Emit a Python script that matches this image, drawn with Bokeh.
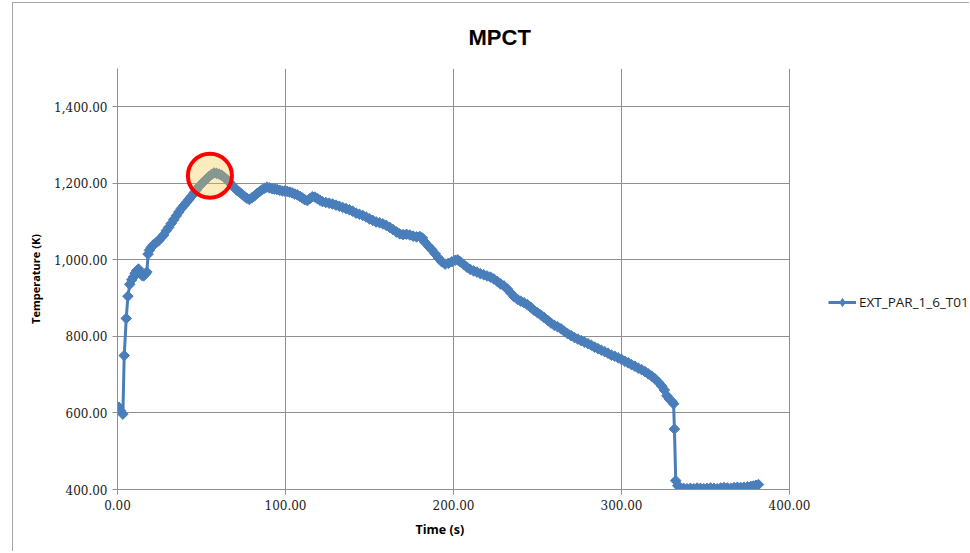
from bokeh.plotting import figure
from bokeh.models import (Range1d, FixedTicker, NumeralTickFormatter, Legend, LegendItem,
                          ColumnDataSource, Title)
from bokeh.embed import file_html
from bokeh.resources import INLINE
import numpy as np

# ---- data ----
time_s = [
    0.8, 2.0, 3.2, 4.0, 5.2, 6.2, 7.3, 8.5, 9.5, 10.5, 11.5, 12.5, 13.5, 14.5, 15.5, 16.5, 17.5, 18.2, 19.0, 20.0,
    21.5, 23.0, 24.5, 26.0, 27.5, 29.0, 30.5, 32.0, 33.5, 35.0, 36.5, 38.0, 39.5, 41.0, 42.5, 44.0, 45.5, 47.0, 48.5, 50.0,
    51.5, 53.0, 54.5, 56.0, 57.5, 59.0, 60.5, 62.0, 63.5, 65.0, 66.5, 68.0, 69.5, 71.0, 72.5, 74.0, 75.5, 77.0, 78.5, 80.0,
    81.5, 83.0, 84.5, 86.0, 87.5, 89.0, 90.5, 92.0, 93.5, 95.0, 96.5, 98.0, 99.5, 101.0, 102.5, 104.0, 105.5, 107.0, 108.5, 110.0,
    111.5, 113.0, 114.5, 116.0, 117.5, 119.0, 120.5, 122.0, 124, 126, 128, 130, 132, 134, 136, 138, 140, 142, 144, 146,
    148, 150, 152, 154, 156, 158, 160, 162, 164, 166, 168, 170, 172, 174, 176, 178, 180, 181.5, 183, 185,
    187, 189, 191, 193, 195, 197, 199, 201, 202.5, 204, 206, 208, 210, 212, 214, 216, 218, 220, 222, 224,
    226, 228, 230, 232, 234, 236, 238, 240, 242, 244, 246, 248, 250, 252, 254, 256, 258, 260, 262, 264,
    266, 268, 270, 272, 274, 276, 278, 280, 282, 284, 286, 288, 290, 292, 294, 296, 298, 300, 302, 304,
    306, 308, 310, 312, 314, 316, 318, 320, 322, 324, 325.5, 327, 328.5, 330, 331, 331.5, 332.3, 333.5, 335, 337,
    339, 341, 343, 345, 347, 349, 351, 353, 355, 357, 359, 361, 363, 365, 367, 369, 371, 373, 375, 377,
    378.5, 380, 381.5,
]
temperature_k = [
    615, 605, 597, 750, 847, 905, 936, 948, 955, 965, 972, 976, 965, 960, 958, 963, 968, 1015, 1025, 1032,
    1040, 1045, 1050, 1058, 1065, 1076, 1085, 1095, 1105, 1115, 1125, 1134, 1142, 1150, 1158, 1166, 1175, 1183, 1192, 1199,
    1205, 1212, 1218, 1223, 1227, 1226, 1224, 1221, 1216, 1210, 1203, 1196, 1189, 1182, 1177, 1172, 1166, 1161, 1158, 1162,
    1167, 1173, 1178, 1183, 1187, 1190, 1188, 1186, 1185, 1184, 1182, 1180, 1180, 1179, 1177, 1175, 1172, 1170, 1166, 1162,
    1157, 1155, 1160, 1165, 1164, 1160, 1156, 1152, 1150, 1148, 1146, 1143, 1140, 1137, 1134, 1131, 1127, 1122, 1119, 1116,
    1112, 1107, 1103, 1099, 1097, 1094, 1090, 1085, 1079, 1073, 1068, 1066, 1067, 1065, 1062, 1060, 1061, 1057, 1046, 1036,
    1027, 1016, 1005, 995, 989, 991, 995, 999, 1000, 995, 988, 981, 975, 971, 968, 964, 961, 958, 955, 950,
    944, 937, 932, 924, 914, 904, 897, 892, 888, 883, 876, 868, 862, 856, 849, 842, 835, 829, 825, 820,
    813, 807, 802, 797, 793, 789, 785, 781, 777, 772, 768, 764, 760, 756, 751, 748, 744, 740, 735, 731,
    726, 722, 717, 713, 708, 702, 696, 689, 680, 670, 660, 645, 636, 630, 624, 558, 423, 410, 405, 403,
    402, 403, 402, 404, 403, 402, 403, 404, 403, 402, 404, 405, 404, 403, 405, 406, 405, 406, 407, 408,
    409, 411, 413,
]
series_name = "EXT_PAR_1_6_T01"
x_ticks = [0, 100, 200, 300, 400]
y_ticks = [400, 600, 800, 1000, 1200, 1400]
x_axis_min, x_axis_max = 0, 400
y_axis_min, y_axis_max = 400, 1500
highlight_t = [55]
highlight_k = [1220]

BLUE = "#4A7EBB"
GRID = "#8f8f8f"

# layout (pixels)
W, H = 957, 549
LEFT, TOP, BOTTOM = 104, 64, 63
PLOT_W = 672                       # width of the 0..400 plot area
frame_w = W - LEFT                 # frame runs to the right edge, legend sits in it
x_view_max = x_axis_max * frame_w / PLOT_W

src = ColumnDataSource(data=dict(t=time_s, k=temperature_k))

p = figure(
    width=W, height=H,
    x_range=Range1d(x_axis_min, x_view_max), y_range=Range1d(y_axis_min, y_axis_max),
    output_backend="svg", toolbar_location=None,
    min_border_left=LEFT, min_border_right=0, min_border_top=TOP, min_border_bottom=BOTTOM,
    styles={"margin-left": "12px", "margin-top": "2px",
            "border-left": "1px solid #a6a6a6", "border-top": "1px solid #a6a6a6",
            "border-right": "none", "border-bottom": "none"},
)
p.outline_line_color = None
p.background_fill_color = "white"
p.border_fill_color = "white"

p.title.text = "MPCT"
p.title.align = "left"
p.title.offset = 351
p.title.standoff = 38
p.title.text_font = "Liberation Sans"
p.title.text_font_style = "bold"
p.title.text_font_size = "22px"
p.title.text_color = "#000000"

for ax, ticks in ((p.xaxis[0], x_ticks), (p.yaxis[0], y_ticks)):
    ax.ticker = FixedTicker(ticks=ticks)
    ax.formatter = NumeralTickFormatter(format="0,0.00")
    ax.major_label_text_font = "DejaVu Serif"
    ax.major_label_text_font_size = "12px"
    ax.major_label_text_color = "#1a1a1a"
    ax.axis_line_color = GRID
    ax.major_tick_line_color = GRID
    ax.major_tick_out = 5
    ax.major_tick_in = 0
    ax.minor_tick_line_color = None
    ax.axis_label_text_font = "Open Sans"
    ax.axis_label_text_font_style = "bold"
    ax.axis_label_text_font_size = "11px"
    ax.axis_label_text_color = "#000000"

p.xaxis.bounds = (x_axis_min, x_axis_max)
p.yaxis.axis_label = "Temperature (K)"
p.yaxis.axis_label_standoff = 8

xtitle = Title(text="Time (s)", align="left", offset=298, standoff=16, vertical_align="top",
               text_font="Open Sans", text_font_style="bold", text_font_size="12.5px",
               text_color="#000000")
p.add_layout(xtitle, "below")

p.xgrid.ticker = FixedTicker(ticks=x_ticks)
p.ygrid.ticker = FixedTicker(ticks=y_ticks)
p.ygrid.cross_bounds = (x_axis_min, x_axis_max)
p.grid.grid_line_color = GRID
p.grid.grid_line_width = 1

ln = p.line("t", "k", source=src, line_color=BLUE, line_width=3)
mk = p.scatter("t", "k", source=src, marker="square", angle=np.pi / 4, size=7.5,
               fill_color=BLUE, line_color=BLUE)
# legend swatch only (Excel diamond marker); hidden on the plot
legend_mk = p.scatter("t", "k", source=src, marker="diamond", size=12,
                      fill_color=BLUE, line_color=BLUE, visible=False)

p.scatter(highlight_t, highlight_k, marker="circle", size=44,
          fill_color="#F5C842", fill_alpha=0.35, line_color="#FF0000", line_width=4)

legend = Legend(items=[LegendItem(label=series_name, renderers=[ln, legend_mk])],
                location=(711, 177))
legend.glyph_width = 28
legend.glyph_height = 20
legend.label_standoff = 3
legend.padding = 0
legend.margin = 0
legend.border_line_color = None
legend.background_fill_alpha = 0
legend.inactive_fill_alpha = 0
legend.label_text_font = "Open Sans"
legend.label_text_font_size = "13.5px"
legend.label_text_color = "#1a1a1a"
p.add_layout(legend, "center")

open("out.html", "w").write(file_html(p, INLINE))
